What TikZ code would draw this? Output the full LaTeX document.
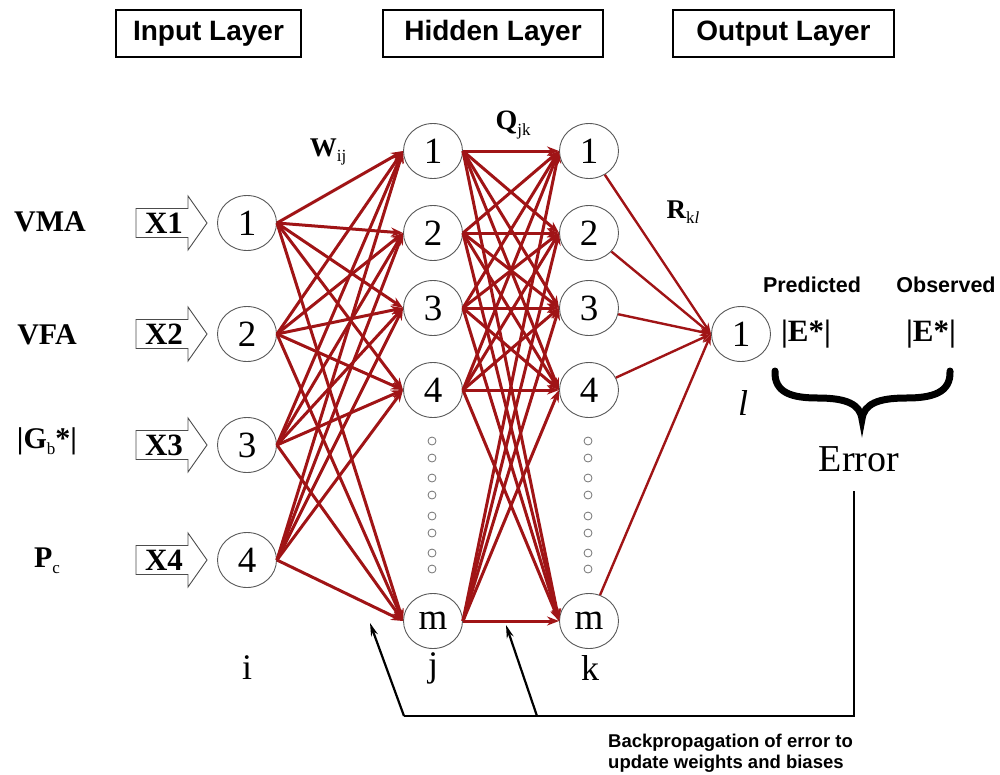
\documentclass[tikz,border=0pt]{standalone}
\usepackage{fontspec}
\setmainfont{Liberation Serif}
\setsansfont{Liberation Sans}
\usetikzlibrary{arrows.meta,shapes.geometric}
\definecolor{wred}{RGB}{160,20,22}
\newcommand\setfs[1]{\fontsize{#1}{#1}\selectfont}
\newcommand\lowsub[2]{\raisebox{-0.45ex}{\setfs{#1}\mdseries #2}}
\begin{document}
\begin{tikzpicture}[x=1pt,y=-1pt,
  titlebox/.style={draw=black,line width=1.8pt,inner sep=0pt,minimum height=47pt,
    font=\sffamily\bfseries\setfs{28}},
  neuron/.style={ellipse,draw=black!65,line width=0.9pt,fill=white,inner sep=0pt,
    minimum width=59pt,minimum height=55pt,font=\setfs{37}},
  wedge/.style={draw=wred,line width=3pt,-{Stealth[length=12pt,width=9pt]}},
  redge/.style={draw=wred,line width=2.4pt,-{Stealth[length=11pt,width=8pt]}},
  inarrow/.style={draw=black!70,line width=0.9pt,fill=white},
  xlab/.style={font=\bfseries\setfs{31},inner sep=0pt},
  inlab/.style={font=\bfseries\setfs{30},inner sep=0pt},
  idx/.style={font=\setfs{36},inner sep=0pt},
  wlab/.style={font=\bfseries\setfs{27},inner sep=0pt},
  emlab/.style={font=\bfseries\setfs{31},inner sep=0pt},
  sflab/.style={font=\sffamily\bfseries\setfs{21.5},inner sep=0pt},
  dot/.style={circle,draw=black!55,line width=0.8pt,fill=white,minimum size=8pt,inner sep=0pt},
  back/.style={draw=black,line width=2.2pt},
  backarrow/.style={back,-{Stealth[length=13pt,width=7pt]}}
]
\useasboundingbox (0,0) rectangle (1000,774);

% layer headings
\node[titlebox,minimum width=185pt] (tin)  at (208.5,33.5) {Input Layer};
\node[titlebox,minimum width=220pt] (thid) at (493,33.5)   {Hidden Layer};
\node[titlebox,minimum width=221pt] (tout) at (783.5,33.5) {Output Layer};

% input variables and their block arrows
\node[inlab] (lvma) at (50,222) {VMA};
\node[inlab] (lvfa) at (47,335) {VFA};
\node[inlab] (lgb)  at (47,441) {|G\lowsub{17}{b}*|};
\node[inlab] (lpc)  at (47,561) {P\lowsub{17}{c}};
\foreach \n/\y in {1/223,2/334,3/445,4/560}{
  \draw[inarrow] (136,{\y-14.5}) -- (188,{\y-14.5}) -- (188,{\y-27}) -- (207,\y)
     -- (188,{\y+27}) -- (188,{\y+14.5}) -- (136,{\y+14.5}) -- cycle;
  \node[xlab] (x\n) at (164,\y) {X\n};
}

% neurons
\foreach \n/\y in {1/223,2/334,3/445,4/560}
  \node[neuron] (i\n) at (247,\y) {\n};
\foreach \n/\y in {1/151,2/233,3/308,4/390,m/621}{
  \node[neuron] (j\n) at (433,\y) {\n};
  \node[neuron] (k\n) at (589,\y) {\n};
}
\node[neuron] (o) at (741,334) {1};

% ellipsis dots for the omitted hidden neurons
\foreach \y [count=\c] in {441,458,478,495,516,533,553,569}{
  \node[dot] (dj\c) at (432,\y) {};
  \node[dot] (dk\c) at (588,\y) {};
}

% weighted connections
\foreach \a in {1,...,4}
  \foreach \b in {1,2,3,4,m}
    \draw[wedge] (i\a.east) -- (j\b.west);
\foreach \a in {1,2,3,4,m}
  \foreach \b in {1,2,3,4,m}
    \draw[wedge] (j\a.east) -- (k\b.west);
\foreach \a in {1,2,3,4,m}
  \draw[redge] (k\a) -- (o.west);

% weight labels
\node[wlab] (wij) at (328,152) {W\lowsub{17}{ij}};
\node[wlab,font=\bfseries\setfs{28}] (qjk) at (513,125) {Q\lowsub{17}{jk}};
\node[wlab] (rkl) at (683,212) {R\lowsub{17}{k\textit{l}}};

% layer indices
\node[idx] (li) at (247,668) {i};
\node[idx] (lj) at (433,668) {j};
\node[idx] (lk) at (590,668) {k};
\node[idx,font=\itshape\setfs{36}] (ll) at (743,403) {l};

% predicted versus observed modulus
\node[sflab] (pred) at (812,285) {Predicted};
\node[sflab] (obs)  at (946,285) {Observed};
\node[emlab] (ep) at (806,334) {|E*|};
\node[emlab] (eo) at (931,334) {|E*|};
\draw[line width=7pt,line cap=round]
  (775,371) .. controls (774,393) and (792,398) .. (818,398)
  .. controls (846,398) and (860,404) .. (862,419)
  .. controls (864,404) and (878,398) .. (906,398)
  .. controls (932,398) and (951,393) .. (950,371);
\node[font=\setfs{38},inner sep=0pt] (err) at (859,459) {Error};

% backpropagation path
\coordinate (bt) at (854,491);
\coordinate (bc) at (854,716);
\coordinate (bl) at (404,716);
\coordinate (bm) at (537,716);
\coordinate (t1) at (370,623);
\coordinate (t2) at (506,625);
\draw[back] (bt) -- (bc) -- (bl);
\draw[backarrow] (bl) -- (t1);
\draw[backarrow] (bm) -- (t2);
\node[font=\sffamily\bfseries\fontsize{18.5}{21}\selectfont,align=left,anchor=west,inner sep=0pt] (bp) at (608,753)
  {Backpropagation of error to\\update weights and biases};
\end{tikzpicture}
\end{document}
